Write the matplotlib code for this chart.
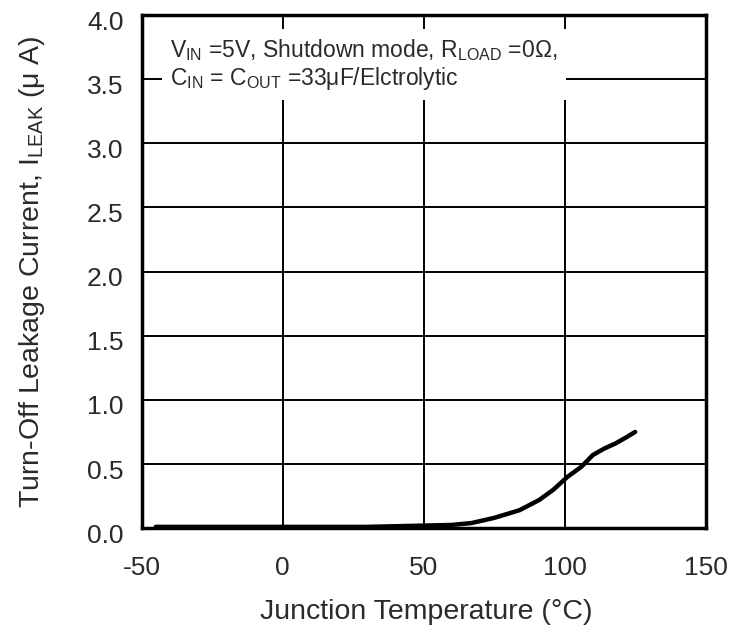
import matplotlib
matplotlib.use('Agg')
import matplotlib.pyplot as plt
import matplotlib.transforms as mtransforms

plt.rcParams['font.family'] = ['Liberation Sans', 'DejaVu Sans']
plt.rcParams['mathtext.default'] = 'regular'
plt.rcParams['axes.unicode_minus'] = False

# leakage current vs junction temperature
temp = [-45, -20, 0, 20, 30, 40, 50, 60, 67, 75, 84, 91, 96, 101, 106, 110, 114, 118, 122, 125]
leak = [0.01, 0.01, 0.01, 0.01, 0.01, 0.015, 0.02, 0.025, 0.04, 0.08, 0.14, 0.22, 0.30, 0.40, 0.48, 0.57, 0.62, 0.66, 0.71, 0.75]

xticks = [-50, 0, 50, 100, 150]
yticks = [0.0, 0.5, 1.0, 1.5, 2.0, 2.5, 3.0, 3.5, 4.0]

fig = plt.figure(figsize=(7.42, 6.28), dpi=100)
ax = fig.add_axes([0.191, 0.159, 0.760, 0.817])

ax.plot(temp, leak, color='black', lw=3.2, solid_capstyle='round', zorder=3)

ax.set_xlim(-50, 150)
ax.set_ylim(0, 4.0)
ax.set_xticks(xticks)
ax.set_yticks(yticks)
ax.set_yticklabels(['%.1f' % v for v in yticks])
ax.grid(True, color='black', lw=1.4)
ax.tick_params(length=0, labelsize=19, colors='#2a2a2a')
ax.tick_params(axis='x', pad=20)
ax.tick_params(axis='y', pad=13)
# y tick labels sit a little below their grid lines in the original
shift = mtransforms.ScaledTranslation(0, -5 / 100, fig.dpi_scale_trans)
for lab in ax.get_yticklabels():
    lab.set_transform(lab.get_transform() + shift)
for s in ax.spines.values():
    s.set_linewidth(2.5)

ax.set_xlabel('Junction Temperature (°C)', fontsize=20.5, color='#2a2a2a')
ax.set_ylabel('Turn-Off Leakage Current, I$_{LEAK}$ (μ A)', fontsize=20.5,
              color='#2a2a2a')
ax.xaxis.set_label_coords(0.504, -0.138)
ax.yaxis.set_label_coords(-0.168, 0.5)

ax.text(0.05, 0.958,
        'V$_{IN}$ =5V, Shutdown mode, R$_{LOAD}$ =0Ω,\nC$_{IN}$ = C$_{OUT}$ =33μF/Elctrolytic',
        transform=ax.transAxes, fontsize=16.5, color='#2a2a2a', va='top', ha='left',
        linespacing=1.12, zorder=4,
        bbox=dict(facecolor='white', edgecolor='none', pad=6))

fig.savefig('out.png', dpi=100)
